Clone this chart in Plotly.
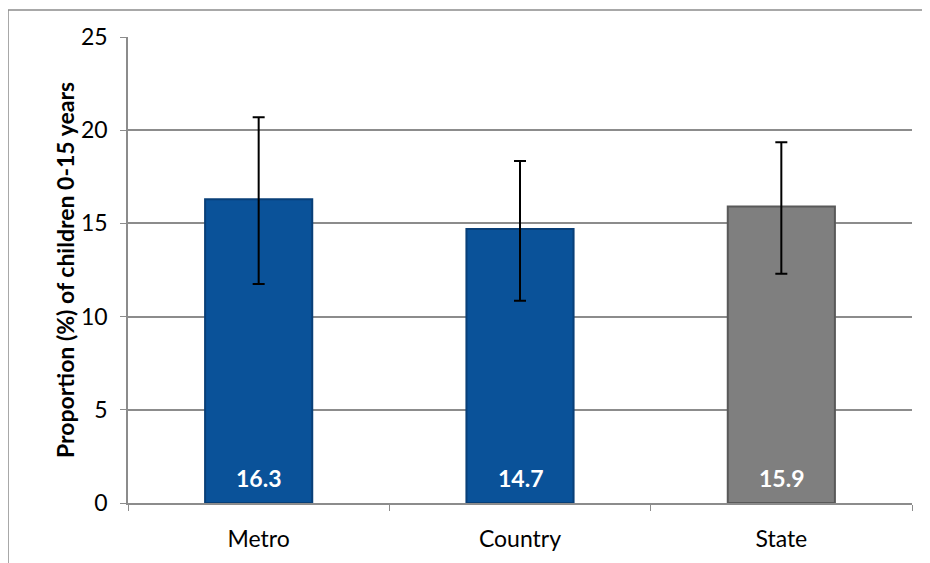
import plotly.graph_objects as go

categories = ["Metro", "Country", "State"]
values = [16.3, 14.7, 15.9]
upper = [20.7, 18.35, 19.35]
lower = [11.75, 10.85, 12.3]
colors = ["#0A5299", "#0A5299", "#7F7F7F"]
line_colors = ["#083F78", "#083F78", "#595959"]
y_ticks = [0, 5, 10, 15, 20, 25]

err_plus = [u - v for u, v in zip(upper, values)]
err_minus = [v - l for v, l in zip(values, lower)]

fig = go.Figure()
fig.add_trace(go.Bar(
    x=categories, y=values,
    width=0.41,
    marker=dict(color=colors, line=dict(color=line_colors, width=2)),
    error_y=dict(type="data", symmetric=False, array=err_plus, arrayminus=err_minus,
                 color="black", thickness=2, width=6),
    showlegend=False,
))

annotations = [dict(x=c, y=0, xref="x", yref="y", text=f"<b>{v:.1f}</b>", showarrow=False,
                    yanchor="bottom", yshift=9, font=dict(color="white", size=23, family="Lato"))
               for c, v in zip(categories, values)]

# body has an 8px margin in the page
W, H = 922, 555
L, R, T, B = 120, 18, 29, 60
pw, ph = W - L - R, H - T - B
fig.update_layout(
    width=W, height=H,
    margin=dict(l=L, r=R, t=T, b=B),
    paper_bgcolor="white", plot_bgcolor="white",
    font=dict(family="Lato", size=23, color="black"),
    yaxis=dict(range=[0, 25], tickvals=y_ticks, showgrid=True, gridcolor="#8C8C8C", gridwidth=1.5,
               showline=True, linecolor="#8C8C8C", linewidth=1.5, ticks="outside", ticklen=6,
               tickcolor="#8C8C8C", zeroline=False, ticklabelstandoff=8,
               title=dict(text="<b>Proportion (%) of children 0-15 years</b>", font=dict(size=23), standoff=0)),
    xaxis=dict(showline=True, linecolor="#8C8C8C", linewidth=1.5, ticks="outside", ticklen=6,
               tickcolor="#8C8C8C", tickson="boundaries", showgrid=False, ticklabelstandoff=15),
    annotations=annotations,
    shapes=[dict(type="rect", xref="paper", yref="paper",
                 x0=(0 - L) / pw, x1=(W + 10 - L) / pw,
                 y0=-(B + 10) / ph, y1=1 + (T - 2) / ph,
                 line=dict(color="#8C8C8C", width=1.5), fillcolor="rgba(0,0,0,0)", layer="below")],
)
fig.write_html("out.html")
